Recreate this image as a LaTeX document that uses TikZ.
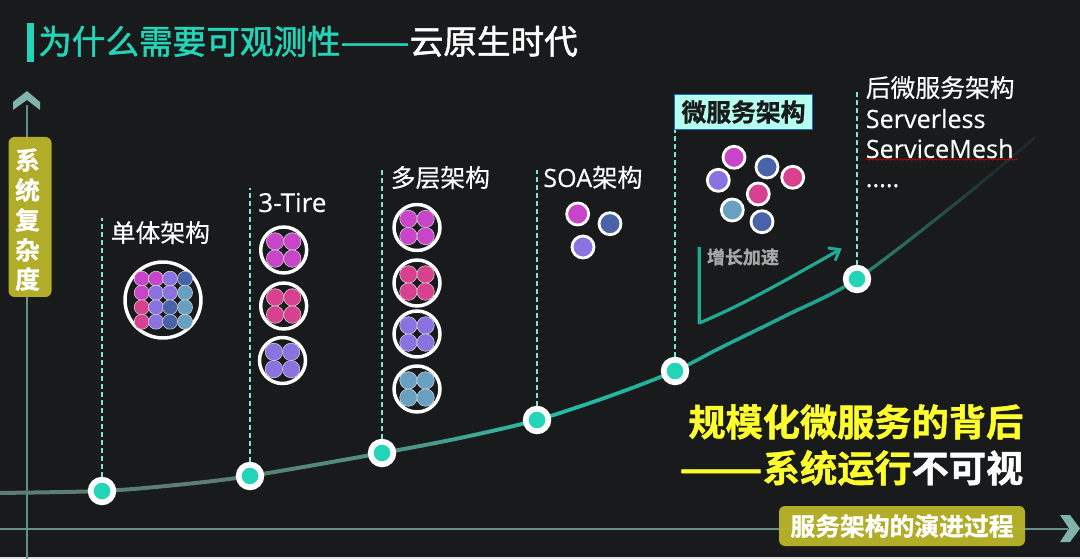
\documentclass[tikz,border=0pt]{standalone}
\usepackage{graphicx}
\usepackage{fontspec}
\setmainfont{Open Sans}[FakeBold=0.25]
\newfontfamily\cjk[BoldFont={Noto Sans CJK SC Bold},BoldFeatures={FakeBold=1.1},FakeBold=0.25]{Noto Sans CJK SC}
\newfontfamily\cjkhead[FakeBold=1.5]{Noto Sans CJK SC}
\usetikzlibrary{arrows.meta,decorations.pathmorphing}
\definecolor{bgc}{HTML}{191A1C}
\definecolor{tealc}{HTML}{22D5B8}
\definecolor{axisc}{HTML}{7FB3AB}
\definecolor{olive}{HTML}{B8B42A}
\definecolor{yel}{HTML}{FFFF2E}
\definecolor{mag}{HTML}{C844C8}
\definecolor{pnk}{HTML}{D84090}
\definecolor{vio}{HTML}{8A72E0}
\definecolor{blu}{HTML}{4A62A8}
\definecolor{lbl}{HTML}{68A0C2}
\definecolor{mint}{HTML}{B5FFF0}
\definecolor{edgeb}{HTML}{1F6FB0}
\definecolor{cA}{HTML}{5A7D75}
\definecolor{cB}{HTML}{4F9486}
\definecolor{cC}{HTML}{24BDA4}
\definecolor{cD}{HTML}{229E8B}
\definecolor{cE}{HTML}{2A7567}
\definecolor{cF}{HTML}{1E2E2C}
% 25bp = x 0, 75bp = x 1080
\pgfdeclarehorizontalshading{curveshade}{100bp}{
 color(0bp)=(cA); color(36bp)=(cA); color(44bp)=(cB); color(50bp)=(cC);
 color(64bp)=(cD); color(66bp)=(cE); color(71bp)=(cF); color(100bp)=(cF)}
\tikzset{
 lab/.style={text=white,font=\fontsize{18.9}{20}\selectfont,anchor=base west,inner sep=0pt},
 labc/.style={lab,font=\cjk\fontsize{18.6}{20}\selectfont},
 guide/.style={draw=#1,line width=.8pt,dash pattern=on 3.8pt off 2.2pt},
 guide/.default={tealc!60!white},
 dot/.style={circle,fill=tealc,draw=white,line width=4.3pt,minimum size=17pt,inner sep=0pt},
 small/.style={line width=.4pt,draw=white!85!black},
 ring/.style={draw=white,line width=2.6pt},
 axisline/.style={draw=axisc!80!black,line width=.8pt},
 chev/.style={fill=axisc}
}
% cluster: cx cy ringradius offset innerradius colour
\newcommand{\quadcluster}[6]{%
 \draw[ring] (#1,#2) circle[radius=#3];
 \foreach \sx in {-1,1}\foreach \sy in {-1,1}
   \filldraw[small,fill=#6] ({#1+\sx*#4},{#2+\sy*#4}) circle[radius=#5];
}
\newcommand{\solo}[3]{\filldraw[draw=white,line width=2.1pt,fill=#3] (#1,#2) circle[radius=11];}
\begin{document}
\begin{tikzpicture}[x=0.75pt,y=-0.75pt]
\useasboundingbox (0,0) rectangle (1080,559);
\fill[bgc] (0,0) rectangle (1080,559);
\fill[white!88!black] (0,557) rectangle (1080,559);

% title
\fill[tealc] (27,23) rectangle (34,62);
\node[anchor=base west,inner sep=0pt,font=\cjkhead\fontsize{25.2}{28}\selectfont,text=tealc] (title) at (38,54) {为什么需要可观测性\scalebox{1.22}[1]{——}};
\node[anchor=base west,inner sep=0pt,font=\cjkhead\fontsize{25.2}{28}\selectfont,text=white] (title2) at (409.5,54) {云原生时代};

% axes
\draw[axisline] (27,105) -- (27,559);
\draw[axisline] (0,529) -- (1068,529);
\fill[chev] (27,91) -- (40,102) -- (40,110) -- (27,100) -- (13,110) -- (13,102) -- cycle;
\fill[chev] (1060,515) -- (1070,515) -- (1080,528.5) -- (1070,542) -- (1060,542) -- (1069,528.5) -- cycle;

% boxes on axes
\fill[olive,fill opacity=.96,rounded corners=4.5pt] (8.5,137) rectangle (51.5,297);
\foreach \c/\yy in {系/160,统/190,复/220,杂/250,度/279}
  \node[text=white,inner sep=0pt,font=\cjk\bfseries\fontsize{18.6}{20}\selectfont] at (27.5,\yy) {\c};
\node[fill=olive,fill opacity=.96,text opacity=1,rounded corners=4.5pt,minimum width=184.5pt,minimum height=30pt,inner sep=0pt,text=white,font=\cjk\bfseries\fontsize{18.6}{20}\selectfont] (procbox) at (902,526) {服务架构的演进过程};

% growth curve
\begin{scope}
\clip plot[smooth] coordinates {(-5,491) (102,489) (176,483) (250,474) (382,451) (460,436) (537,418) (610,394) (675,369) (720,346) (785,314) (857,277) (960,198) (1035,136)}
 -- plot[smooth] coordinates {(1035,139) (960,202) (857,281) (785,318) (720,350) (675,373) (610,398) (537,422) (460,440) (382,455) (250,478) (176,487) (102,493) (-5,495)} -- cycle;
\shade[shading=curveshade] (0,100) rectangle (1080,510);
\end{scope}

% stage dots
\node[dot] (d1) at (102,491) {};
\node[dot] (d2) at (250,476) {};
\node[dot] (d3) at (382,453) {};
\node[dot] (d4) at (537,420) {};
\node[dot] (d5) at (675,371) {};
\node[dot] (d6) at (857,279) {};

% guides
\coordinate (g1) at (102,218); \coordinate (g2) at (250,188); \coordinate (g3) at (382,168);
\coordinate (g4) at (537,170); \coordinate (g6) at (857,92);
\draw[guide] (d1) -- (g1);
\draw[guide] (d2) -- (g2);
\draw[guide] (d3) -- (g3);
\draw[guide] (d4) -- (g4);
\draw[guide] (d6) -- (g6);

% labels
\node[labc] (l1) at (110.5,242) {单体架构};
\node[lab,font=\fontsize{19.6}{20}\selectfont] (l2) at (258,212) {3-Tire};
\node[labc] (l3) at (390.5,187) {多层架构};
\node[lab] (l4) at (543,187) {SOA{\cjk 架构}};
\node[inner sep=0pt,minimum width=103pt,minimum height=26pt,draw=edgeb,fill=mint,line width=.9pt,text=bgc,font=\cjk\bfseries\fontsize{18.6}{20}\selectfont] (l5) at (743.5,112) {微服务架构};
\draw[guide] (d5) -- (l5.south -| d5);
\node[labc] (l6a) at (865.5,97) {后微服务架构};
\node[lab] (l6b) at (865.5,128) {Serverless};
\node[lab] (l6c) at (865.5,158) {ServiceMesh};
\node[lab] (l6d) at (865.5,187) {.....};
\draw[red!80!black,line width=.6pt,decorate,decoration={snake,amplitude=.5pt,segment length=3.2pt}] (l6c.base west)++(0,1.5) -- ++(152,0);

% monolith
\draw[ring] (163,300) circle[radius=38];
\foreach \px/\py/\cc in {
 141.7/278.7/mag,156/278.7/mag,170/278.7/vio,185/278.7/blu,
 141.7/292.7/mag,156/292.7/vio,170/292.7/vio,185/292.7/lbl,
 141.7/307.3/pnk,156/307.3/vio,170/307.3/blu,185/307.3/lbl,
 141.7/321.7/pnk,156/321.7/vio,170/321.7/blu,185/321.7/lbl}
 \filldraw[small,fill=\cc] (\px,\py) circle[radius=7.5];

% clusters
\quadcluster{283.7}{250}{23}{8.6}{8.7}{mag}
\quadcluster{283.7}{306}{23}{8.6}{8.7}{pnk}
\quadcluster{282.5}{360.5}{23}{8.6}{8.7}{vio}
\quadcluster{417}{227.5}{23}{8.6}{8.7}{mag}
\quadcluster{417}{283}{23}{8.6}{8.7}{pnk}
\quadcluster{417}{334}{23}{8.6}{8.7}{vio}
\quadcluster{417}{389}{23}{8.6}{8.7}{lbl}

% SOA
\solo{577.7}{214}{mag}
\solo{610}{223.7}{blu}
\solo{583}{247}{vio}
% microservices
\solo{734}{157.3}{mag}
\solo{767}{167}{blu}
\solo{718.3}{180.3}{vio}
\solo{792.7}{177.3}{pnk}
\solo{758.3}{194}{pnk}
\solo{732.3}{210}{lbl}
\solo{762}{221.7}{blu}

% growth arrow
\node[text=white!66!black,inner sep=0pt,font=\cjk\bfseries\fontsize{13.5}{15}\selectfont] (accel) at (743,257) {增长加速};
\coordinate (a0) at (699.3,247); \coordinate (a1) at (699.3,323); \coordinate (a2) at (841.7,248.5);
\draw[draw=cC!90!black,line width=2.4pt,line join=round,-{Straight Barb[length=7pt,width=11pt,line width=2.2pt]}] (a0) -- (a1) .. controls (745,304) and (795,275) .. (a2);

% statement
\node[anchor=base east,inner sep=0pt,text=yel,font=\cjk\bfseries\fontsize{27.9}{30}\selectfont] (s1) at (1023.5,436) {规模化微服务的背后};
\node[anchor=base east,inner sep=0pt,text=yel,font=\cjk\bfseries\fontsize{27.9}{30}\selectfont] (s2) at (1023.5,482) {\scalebox{1.32}[1]{——}系统运行\textcolor{white}{不可视}};
\end{tikzpicture}
\end{document}
